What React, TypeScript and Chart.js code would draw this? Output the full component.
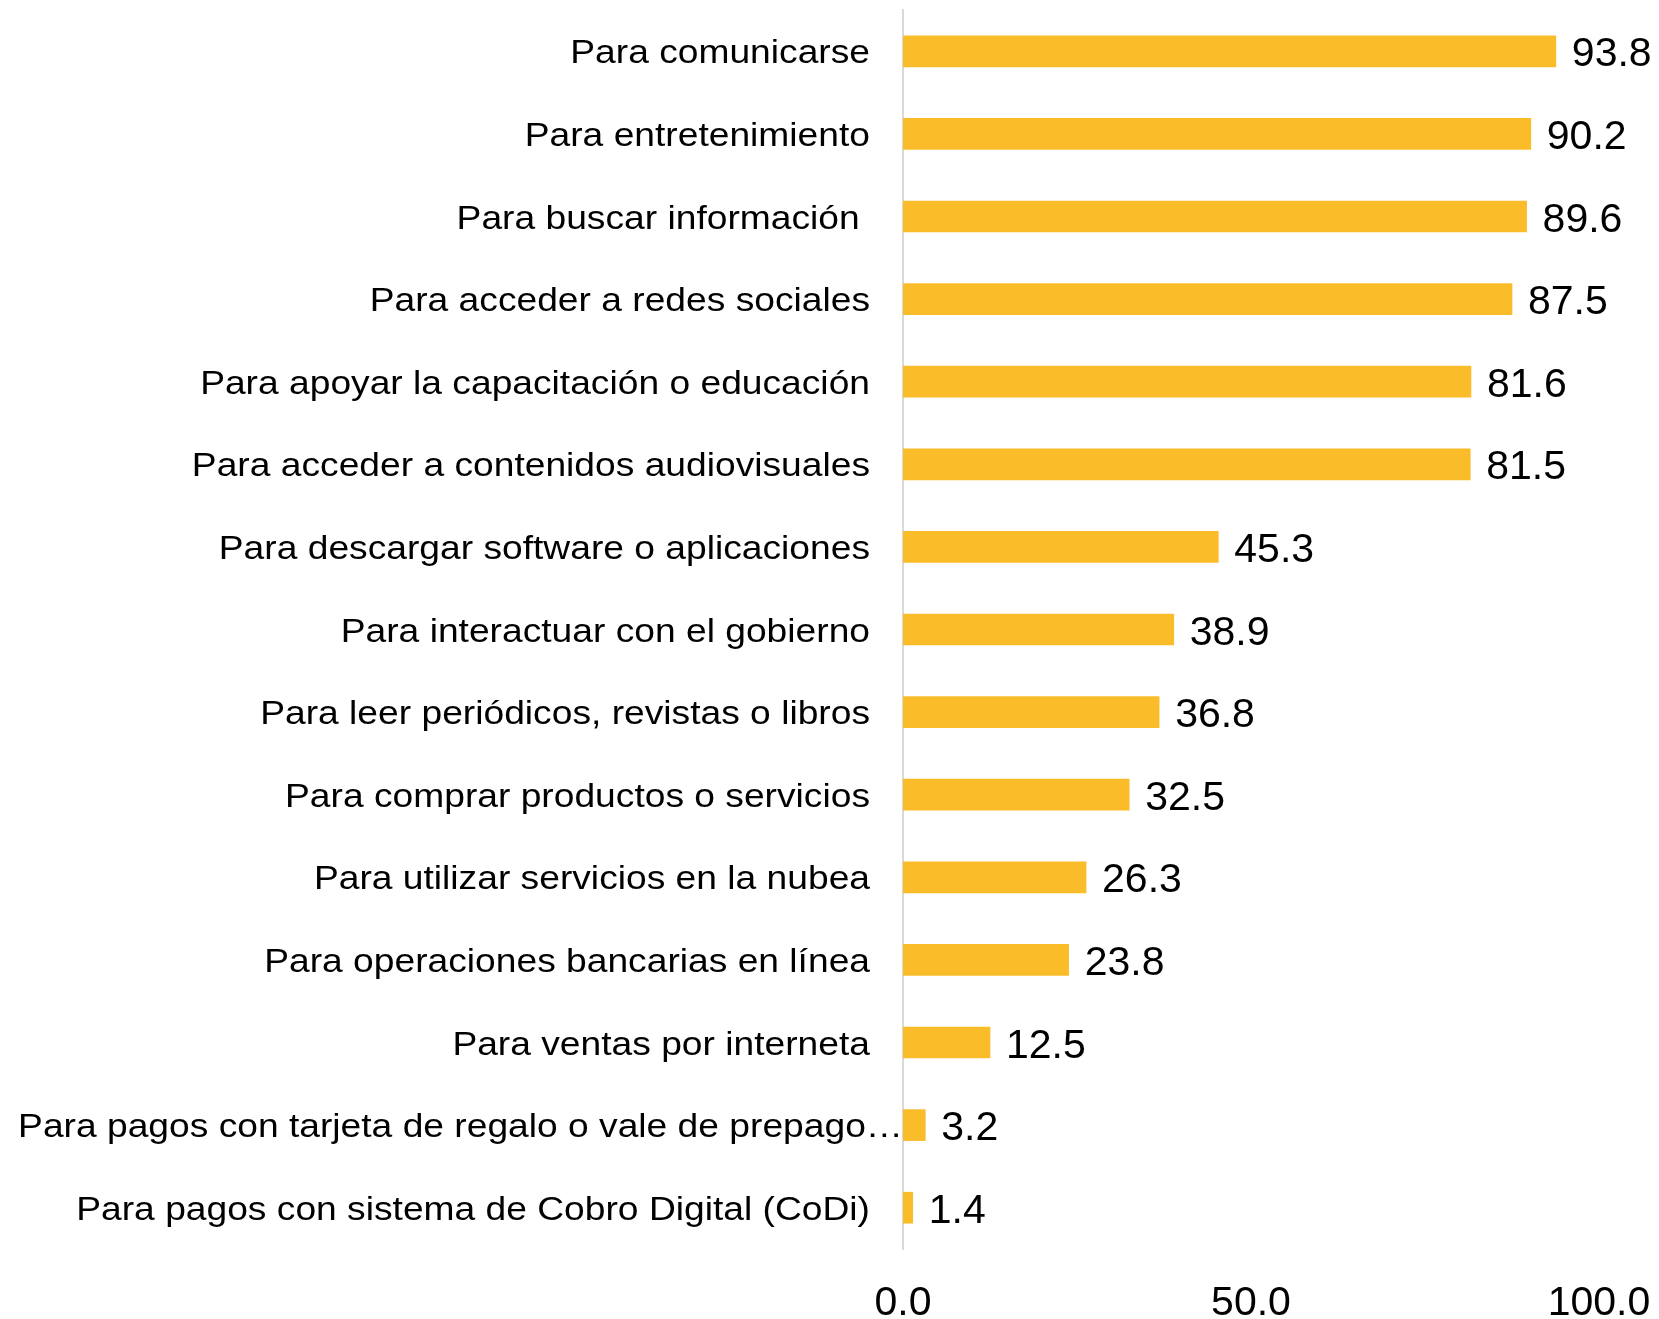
import React, { useEffect, useRef } from "react";
import { Chart, registerables } from "chart.js";

Chart.register(...registerables);

const categories = [
  "Para comunicarse",
  "Para entretenimiento",
  "Para buscar información ",
  "Para acceder a redes sociales",
  "Para apoyar la capacitación o educación",
  "Para acceder a contenidos audiovisuales",
  "Para descargar software o aplicaciones",
  "Para interactuar con el gobierno",
  "Para leer periódicos, revistas o libros",
  "Para comprar productos o servicios",
  "Para utilizar servicios en la nubea",
  "Para operaciones bancarias en línea",
  "Para ventas por interneta",
  "Para pagos con tarjeta de regalo o vale de prepago…",
  "Para pagos con sistema de Cobro Digital (CoDi)",
];

const values = [93.8, 90.2, 89.6, 87.5, 81.6, 81.5, 45.3, 38.9, 36.8, 32.5, 26.3, 23.8, 12.5, 3.2, 1.4];

const xTickValues = [0, 50, 100];

const FONT = "'Liberation Sans', Arial, sans-serif";
const BAR_COLOR = "#FBBC2A";

const labelPlugin = {
  id: "customLabels",
  afterDraw(chart: any) {
    const ctx = chart.ctx;
    const yScale = chart.scales.y;
    ctx.save();
    // category labels
    ctx.font = `33px ${FONT}`;
    ctx.fillStyle = "#000000";
    ctx.textAlign = "right";
    ctx.textBaseline = "alphabetic";
    categories.forEach((c, i) => {
      const y = yScale.getPixelForValue(i);
      const isTruncated = c.endsWith("…");
      const x = isTruncated ? 903 : 870;
      ctx.save();
      ctx.translate(x, y + 12);
      ctx.scale(1.127, 1);
      ctx.fillText(c, 0, 0);
      ctx.restore();
    });
    // value labels
    ctx.font = `41px ${FONT}`;
    ctx.textAlign = "left";
    ctx.textBaseline = "alphabetic";
    const meta = chart.getDatasetMeta(0);
    meta.data.forEach((bar: any, i: number) => {
      ctx.fillText(values[i].toFixed(1), bar.x + 16, bar.y + 15);
    });
    ctx.restore();
  },
};

export default function App() {
  const canvasRef = useRef<HTMLCanvasElement | null>(null);

  useEffect(() => {
    if (!canvasRef.current) return;
    const chart = new Chart(canvasRef.current, {
      type: "bar",
      data: {
        labels: categories,
        datasets: [
          {
            data: values,
            backgroundColor: BAR_COLOR,
            borderWidth: 0,
            barThickness: 31,
          },
        ],
      },
      options: {
        indexAxis: "y",
        animation: false,
        responsive: true,
        maintainAspectRatio: false,
        layout: { padding: { top: 10, right: 60, left: 0, bottom: 0 } },
        plugins: {
          legend: { display: false },
          tooltip: { enabled: false },
        },
        scales: {
          x: {
            type: "linear",
            min: 0,
            max: 100,
            afterBuildTicks: (scale: any) => {
              scale.ticks = xTickValues.map((v) => ({ value: v }));
            },
            afterFit: (scale: any) => {
              scale.height = 70;
              scale.paddingLeft = 0;
              scale.paddingRight = 0;
            },
            grid: { display: false, drawTicks: false },
            border: { display: false },
            ticks: {
              padding: 30,
              color: "#000000",
              font: { size: 41, family: FONT },
              callback: (v: any) => Number(v).toFixed(1),
            },
          },
          y: {
            afterFit: (scale: any) => {
              scale.width = 903;
            },
            grid: { display: false, drawTicks: false },
            border: { display: true, color: "#d9d9d9", width: 2 },
            ticks: { display: false },
          },
        },
      },
      plugins: [labelPlugin],
    });
    return () => chart.destroy();
  }, []);

  return (
    <div style={{ position: "absolute", left: 0, top: 0, width: 1659, height: 1319, background: "#ffffff" }}>
      <canvas ref={canvasRef} />
    </div>
  );
}
